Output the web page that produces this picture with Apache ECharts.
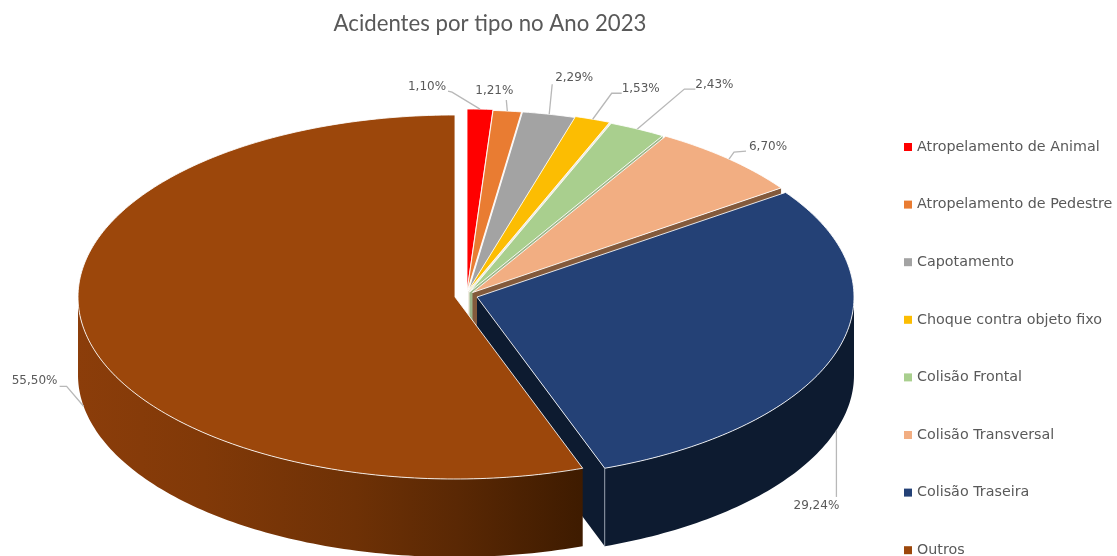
<!DOCTYPE html>
<html>
<head>
<meta charset="utf-8">
<style>html,body{margin:0;padding:0;background:#fff}#c{width:1117px;height:556px}</style>
<script src="https://cdn.jsdelivr.net/npm/echarts@6/dist/echarts.min.js"></script>
</head>
<body>
<div id="c"></div>
<script>
// ---- data ----
const categories = ['Atropelamento de Animal','Atropelamento de Pedestre','Capotamento','Choque contra objeto fixo','Colisão Frontal','Colisão Transversal','Colisão Traseira','Outros'];
const values = [1.10,1.21,2.29,1.53,2.43,6.70,29.24,55.50];
const chartTitle = 'Acidentes por tipo no Ano 2023';

// ---- style and layout ----
const topColors  = ['#FF0000','#E97C32','#A3A3A3','#FCBD02','#A9CF8E','#F2AE82','#244176','#9C470B'];
const edgeColors = ['#ffffff','#ffffff','#f4efe6','#f0ece0','#9DB78A','#835A3C','#0D1B30','#4a2200'];
const RX = 377, RY = 182, DEPTH = 78;
const sliceCentres = [[467,291],[467,292],[468,292],[468,291],[469.5,292],[472.5,292.5],[477,297],[455,297]];
// label centre, and leader-line knots, relative to the anchor on the slice rim
const labelOffsets = [[-53,-22],[-13,-20],[25,-36],[48,-30],[77,-44],[39,-12],[-20,76],[-49,-25]];
const leaderKnots = [
  [[-28,-17],[-32,-18]],[[-1,-11]],[[3,-30]],[[19,-26],[29,-26]],
  [[47,-40],[58,-40]],[[5,-7],[17,-8]],[[0,67]],[[-17,-20],[-24,-20]]
];
const outrosWall = [[0,'#8B3D0A'],[0.25,'#813908'],[0.55,'#6E3106'],[0.75,'#5A2804'],[1,'#3E1B00']];

const DEG = Math.PI/180;
const total = values.reduce((a,b)=>a+b,0);
function pt(c,a,dy){return [c[0]+RX*Math.sin(a*DEG), c[1]-RY*Math.cos(a*DEG)+(dy||0)];}
function arc(c,a0,a1,dy){
  const out=[], n=Math.max(2,Math.ceil(Math.abs(a1-a0)));
  for(let i=0;i<=n;i++) out.push(pt(c,a0+(a1-a0)*i/n,dy));
  return out;
}
function makeRender(i){
  return function(params,api){
    const v = api.value(0);
    let before = 0; for(let k=0;k<i;k++) before += values[k];
    const a0 = before/total*360, a1 = (before+v)/total*360, mid=(a0+a1)/2;
    const c = sliceCentres[i];
    const children = [];
    // radial wall at the slice's closing edge faces the viewer in the right half
    if(a1<=180){
      const e = pt(c,a1);
      children.push({type:'polygon',shape:{points:[[c[0],c[1]],e,[e[0],e[1]+DEPTH],[c[0],c[1]+DEPTH]]},
        style:{fill:edgeColors[i]}});
    }
    // outer wall: only the front half of the rim faces the viewer
    const w0 = Math.max(a0,90), w1 = Math.min(a1,270);
    if(w1>w0){
      const top = arc(c,w0,w1,0), bot = arc(c,w1,w0,DEPTH);
      const fill = i===7
        ? {type:'linear',x:pt(c,w1)[0],y:0,x2:pt(c,w0)[0],y2:0,global:true,colorStops:outrosWall.map(s=>({offset:s[0],color:s[1]}))}
        : edgeColors[i];
      children.push({type:'polygon',shape:{points:top.concat(bot)},style:{fill:fill}});
    }
    if(i===6){
      const e = pt(c,a1);
      children.push({type:'polyline',shape:{points:[e,[e[0],e[1]+DEPTH]]},style:{fill:null,stroke:'#8f98a6',lineWidth:1}});
    }
    // top face
    children.push({type:'polygon',shape:{points:[[c[0],c[1]]].concat(arc(c,a0,a1,0))},
      style:{fill:topColors[i],stroke:'rgba(255,255,255,0.85)',lineWidth:1,lineJoin:'round'}});
    // leader and label
    const anchor = pt(c,mid,(mid>90&&mid<270)?DEPTH:0);
    const pts=[anchor].concat(leaderKnots[i].map(k=>[anchor[0]+k[0],anchor[1]+k[1]]));
    children.push({type:'polyline',shape:{points:pts},style:{fill:null,stroke:'#B8B8B8',lineWidth:1.3},z2:50});
    const lo = labelOffsets[i];
    children.push({type:'text',x:anchor[0]+lo[0],y:anchor[1]+lo[1],z2:51,style:{
      text:v.toFixed(2).replace('.',',')+'%',fill:'#595959',
      font:'12px "DejaVu Sans"',align:'center',verticalAlign:'middle'}});
    return {type:'group',children:children};
  };
}

const series = categories.map((name,i)=>({
  type:'custom',name:name,coordinateSystem:'none',silent:true,
  itemStyle:{color:topColors[i]},
  renderItem:makeRender(i),
  data:[[values[i]]],
  animation:false
}));

const chart = echarts.init(document.getElementById('c'),null,{renderer:'canvas'});
chart.setOption({
  animation:false,
  backgroundColor:'#ffffff',
  title:{text:chartTitle,left:485,top:8,textAlign:'center',
    textStyle:{fontFamily:'Lato',fontSize:22.2,fontWeight:'normal',color:'#595959'}},
  legend:{orient:'vertical',left:904,top:140,height:440,icon:'rect',itemWidth:8,itemHeight:8,itemGap:43.6,
    padding:0,data:categories,selectedMode:false,
    textStyle:{fontFamily:'DejaVu Sans',fontSize:14.3,color:'#595959'}},
  series:series
});
</script>
</body>
</html>
